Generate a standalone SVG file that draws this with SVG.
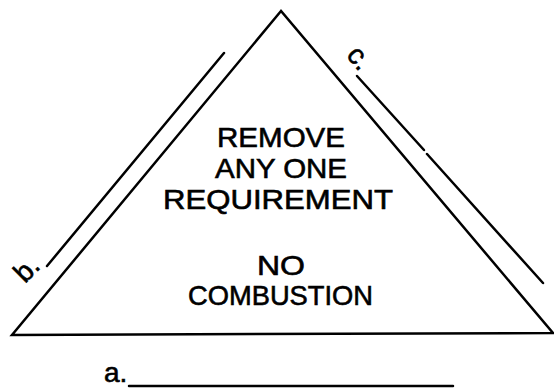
<svg xmlns="http://www.w3.org/2000/svg" width="554" height="388" viewBox="0 0 554 388">
<style>
.ln{stroke:#000;stroke-width:2.5;fill:none;stroke-linecap:round;stroke-linejoin:miter}
.t{font-family:"Liberation Sans",Arial,sans-serif;font-size:28px;fill:#000;stroke:#000;stroke-width:0.6;text-anchor:middle}
.lb{font-family:"Liberation Sans",Arial,sans-serif;font-size:28px;fill:#000;stroke:#000;stroke-width:0.6}
</style>
<rect width="554" height="388" fill="#fff"/>
<g id="triangle">
<path class="ln" d="M281,11 L12,335 L553,333 Z"/>
<g id="center-text">
<text class="t" x="281" y="147" textLength="128" lengthAdjust="spacingAndGlyphs">REMOVE</text>
<text class="t" x="281" y="178" textLength="132" lengthAdjust="spacingAndGlyphs">ANY ONE</text>
<text class="t" x="278" y="209" textLength="230" lengthAdjust="spacingAndGlyphs">REQUIREMENT</text>
<text class="t" x="281" y="275" textLength="48" lengthAdjust="spacingAndGlyphs">NO</text>
<text class="t" x="280.5" y="305" textLength="185" lengthAdjust="spacingAndGlyphs">COMBUSTION</text>
</g>
</g>
<g id="connectors">
<line class="ln" x1="224" y1="53" x2="47" y2="266" stroke-width="2.2"/>
<line class="ln" x1="357" y1="76" x2="424" y2="150" stroke-width="2.2"/>
<line class="ln" x1="427" y1="154" x2="543" y2="283" stroke-width="2.2"/>
<line class="ln" x1="129" y1="386" x2="453" y2="386" stroke-width="2.2"/>
</g>
<g id="label-b">
<text class="lb" transform="translate(25,284) rotate(-45)">b.</text>
</g>
<g id="label-c">
<text class="lb" transform="translate(345.5,55.5) rotate(50)">c.</text>
</g>
<g id="label-a">
<text class="lb" font-size="30" x="104" y="382">a.</text>
</g>
</svg>
